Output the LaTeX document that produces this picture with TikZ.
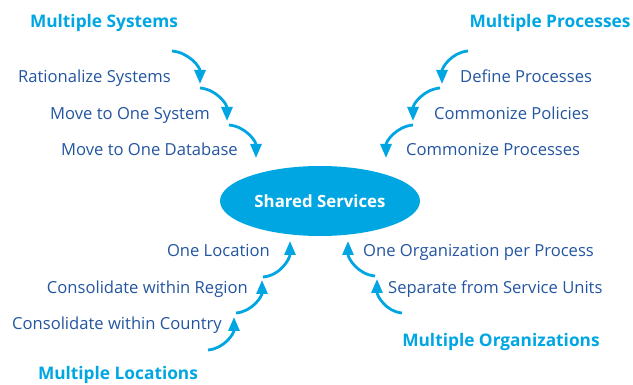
\documentclass[tikz,border=0pt]{standalone}
\usepackage{fontspec}
\setmainfont{Open Sans}
\usetikzlibrary{arrows.meta,shapes.geometric}
\definecolor{sscyan}{RGB}{0,166,226}
\definecolor{ssblue}{RGB}{35,85,160}
\tikzset{
	steptext/.style={text=ssblue,inner sep=0pt,font=\fontsize{16.6}{18}\selectfont},
	grouptitle/.style={text=sscyan,inner sep=0pt,font=\fontsize{17.3}{19}\selectfont\bfseries},
	flowarrow/.style={draw=sscyan,line width=2.8pt,-{Triangle[length=14pt,width=11pt]}}
}
\begin{document}
\begin{tikzpicture}[x=1pt,y=-1pt]
	\useasboundingbox (0,0) rectangle (633,385);
	\node[ellipse,fill=sscyan,minimum width=200pt,minimum height=70pt,text=white,font=\fontsize{16.8}{19}\selectfont\bfseries] (shared) at (320,201) {Shared Services};

	\node[grouptitle] (systems) at (104,23) {Multiple Systems};
	\node[steptext,anchor=base east] (rational) at (171,83) {Rationalize Systems};
	\node[steptext,anchor=base east] (onesystem) at (210,120) {Move to One System};
	\node[steptext,anchor=base east] (onedb) at (238,156) {Move to One Database};
	\coordinate (s1a) at (172,51);
	\coordinate (s1b) at (200,84);
	\coordinate (s2a) at (200,88);
	\coordinate (s2b) at (227,121);
	\coordinate (s3a) at (229,125);
	\coordinate (s3b) at (256,158);
	\draw[flowarrow] (s1a) to[out=-5,in=90] (s1b);
	\draw[flowarrow] (s2a) to[out=-5,in=90] (s2b);
	\draw[flowarrow] (s3a) to[out=-5,in=90] (s3b);

	\node[grouptitle] (processes) at (550,23) {Multiple Processes};
	\node[steptext,anchor=base west] (define) at (460,83) {Define Processes};
	\node[steptext,anchor=base west] (policies) at (434,120) {Commonize Policies};
	\node[steptext,anchor=base west] (commonproc) at (406,156) {Commonize Processes};
	\coordinate (p1a) at (468,51);
	\coordinate (p1b) at (442,84);
	\coordinate (p2a) at (440,88);
	\coordinate (p2b) at (413,121);
	\coordinate (p3a) at (413,125);
	\coordinate (p3b) at (386,158);
	\draw[flowarrow] (p1a) to[out=185,in=90] (p1b);
	\draw[flowarrow] (p2a) to[out=185,in=90] (p2b);
	\draw[flowarrow] (p3a) to[out=185,in=90] (p3b);

	\node[grouptitle] (locations) at (118,375) {Multiple Locations};
	\node[steptext,anchor=base east] (oneloc) at (270,257) {One Location};
	\node[steptext,anchor=base east] (region) at (248,294) {Consolidate within Region};
	\node[steptext,anchor=base east] (country) at (222,330) {Consolidate within Country};
	\coordinate (l1a) at (263,277);
	\coordinate (l1b) at (290,241);
	\coordinate (l2a) at (236,313);
	\coordinate (l2b) at (262,280);
	\coordinate (l3a) at (208,350);
	\coordinate (l3b) at (234,317);
	\draw[flowarrow] (l1a) to[out=5,in=-90] (l1b);
	\draw[flowarrow] (l2a) to[out=5,in=-90] (l2b);
	\draw[flowarrow] (l3a) to[out=5,in=-90] (l3b);

	\node[grouptitle] (organizations) at (501,342) {Multiple Organizations};
	\node[steptext,anchor=base west] (oneorg) at (363,257) {One Organization per Process};
	\node[steptext,anchor=base west] (separate) at (388,294) {Separate from Service Units};
	\coordinate (o1a) at (375,276);
	\coordinate (o1b) at (348,241);
	\coordinate (o2a) at (402,313);
	\coordinate (o2b) at (377,279);
	\draw[flowarrow] (o1a) to[out=175,in=-90] (o1b);
	\draw[flowarrow] (o2a) to[out=175,in=-90] (o2b);
\end{tikzpicture}
\end{document}
